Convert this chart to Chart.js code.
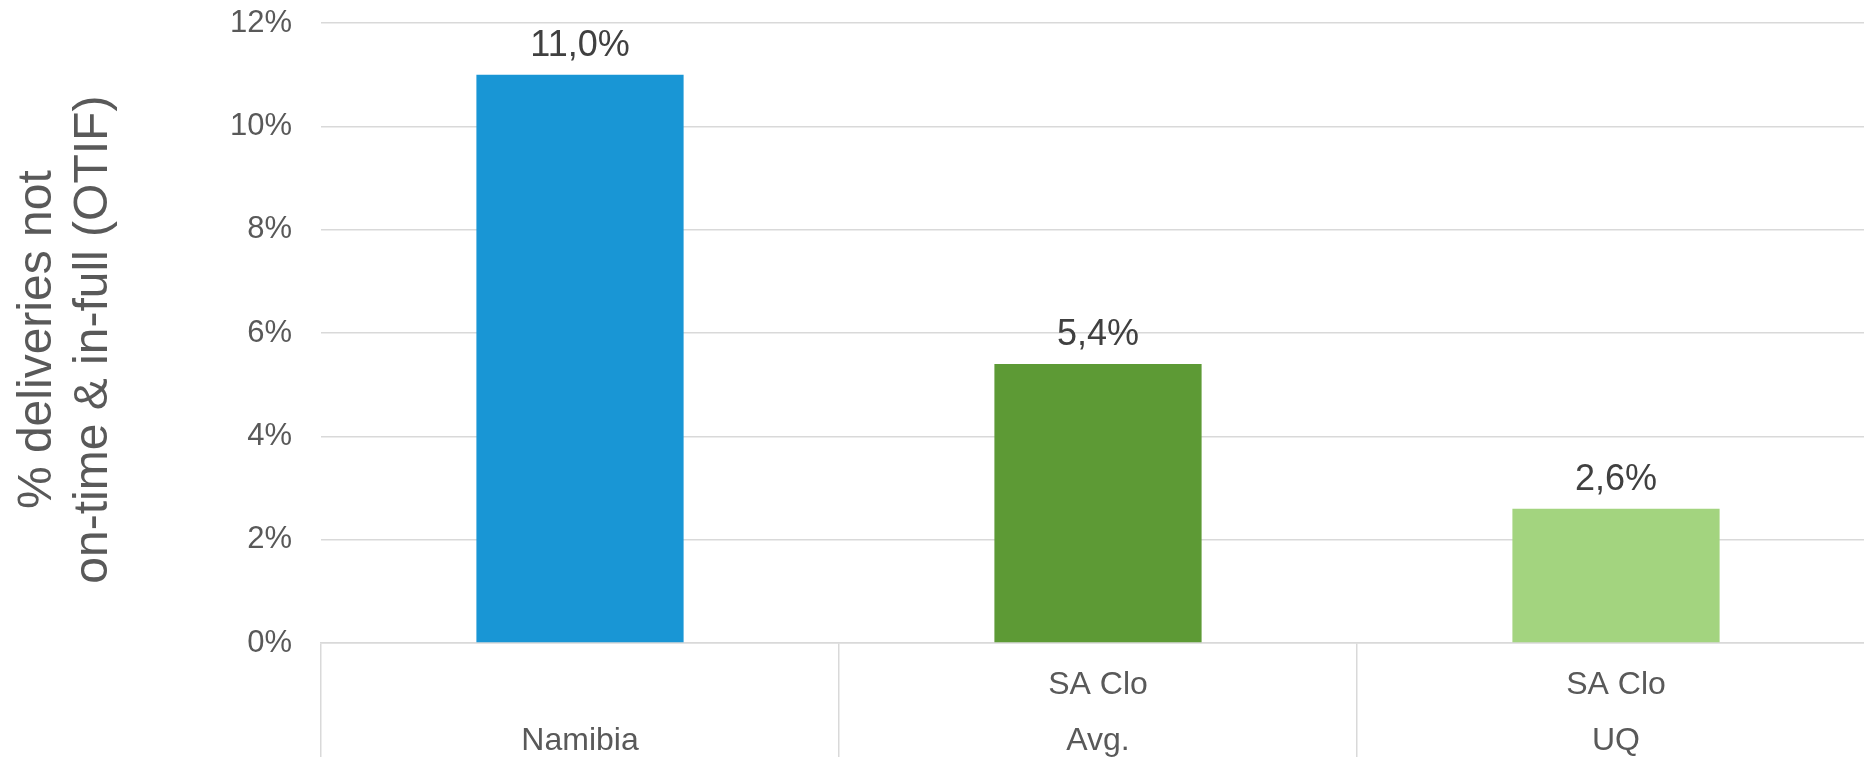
<!DOCTYPE html>
<html>
<head>
<meta charset="utf-8">
<script src="https://cdn.jsdelivr.net/npm/chart.js@4/dist/chart.umd.min.js"></script>
<style>
  html, body { margin: 0; padding: 0; background: #ffffff; overflow: hidden; }
  #wrap { width: 1864px; height: 757px; position: relative; overflow: hidden; }
  canvas { display: block; }
</style>
</head>
<body>
<div id="wrap"><canvas id="c" width="1875" height="757"></canvas></div>
<script>
// ---- data ----
const categories = ['Namibia', 'SA Clo Avg.', 'SA Clo UQ'];
const categoryLines = [['', 'Namibia'], ['SA Clo', 'Avg.'], ['SA Clo', 'UQ']];
const values = [11.0, 5.4, 2.6];
const barColors = ['#1996d5', '#5d9a35', '#a3d47f'];
const yTicks = [0, 2, 4, 6, 8, 10, 12];
const yTitle = ['% deliveries not ', 'on-time & in-full (OTIF) '];

const FONT = "'Liberation Sans', Arial, Helvetica, sans-serif";

const valueLabels = {
  id: 'valueLabels',
  afterDatasetsDraw(chart) {
    const ctx = chart.ctx;
    const meta = chart.getDatasetMeta(0);
    ctx.save();
    ctx.font = '36px ' + FONT;
    ctx.fillStyle = '#404040';
    ctx.textAlign = 'center';
    ctx.textBaseline = 'middle';
    meta.data.forEach((bar, i) => {
      const v = chart.data.datasets[0].data[i];
      ctx.fillText(v.toFixed(1).replace('.', ',') + '%', bar.x, bar.y - 29);
    });
    ctx.restore();
  }
};

new Chart(document.getElementById('c'), {
  type: 'bar',
  data: {
    labels: categoryLines,
    datasets: [{
      label: 'OTIF',
      data: values,
      backgroundColor: barColors,
      borderWidth: 0,
      barPercentage: 0.4,
      categoryPercentage: 1.0
    }]
  },
  options: {
    responsive: false,
    animation: false,
    devicePixelRatio: 1,
    layout: { padding: { top: 23, right: 0, left: 0, bottom: 0 } },
    plugins: {
      legend: { display: false },
      tooltip: { enabled: false }
    },
    scales: {
      x: {
        type: 'category',
        offset: true,
        grid: {
          offset: true,
          drawOnChartArea: false,
          drawTicks: true,
          tickLength: 114,
          color: '#d9d9d9',
          lineWidth: 1.5
        },
        border: { display: true, color: '#d9d9d9', width: 1.5 },
        ticks: {
          color: '#595959',
          font: { family: FONT, size: 32, lineHeight: 1.75 },
          padding: -100,
          maxRotation: 0,
          autoSkip: false
        },
        afterFit(scale) { scale.height = 114; }
      },
      y: {
        min: 0,
        max: 12,
        afterBuildTicks(scale) { scale.ticks = yTicks.map(v => ({ value: v })); },
        grid: {
          color: '#d9d9d9',
          lineWidth: 1.5,
          drawTicks: false
        },
        border: { display: false },
        ticks: {
          color: '#595959',
          font: { family: FONT, size: 31 },
          padding: 29,
          callback: (v) => v + '%'
        },
        title: {
          display: true,
          text: yTitle,
          color: '#595959',
          font: { family: FONT, size: 48, lineHeight: 1.17 },
          padding: { top: 10, bottom: 0 }
        },
        afterFit(scale) {
          scale.width = 321;
          scale.paddingTop = 0;
          scale.paddingBottom = 0;
        }
      }
    }
  },
  plugins: [valueLabels]
});
</script>
</body>
</html>
